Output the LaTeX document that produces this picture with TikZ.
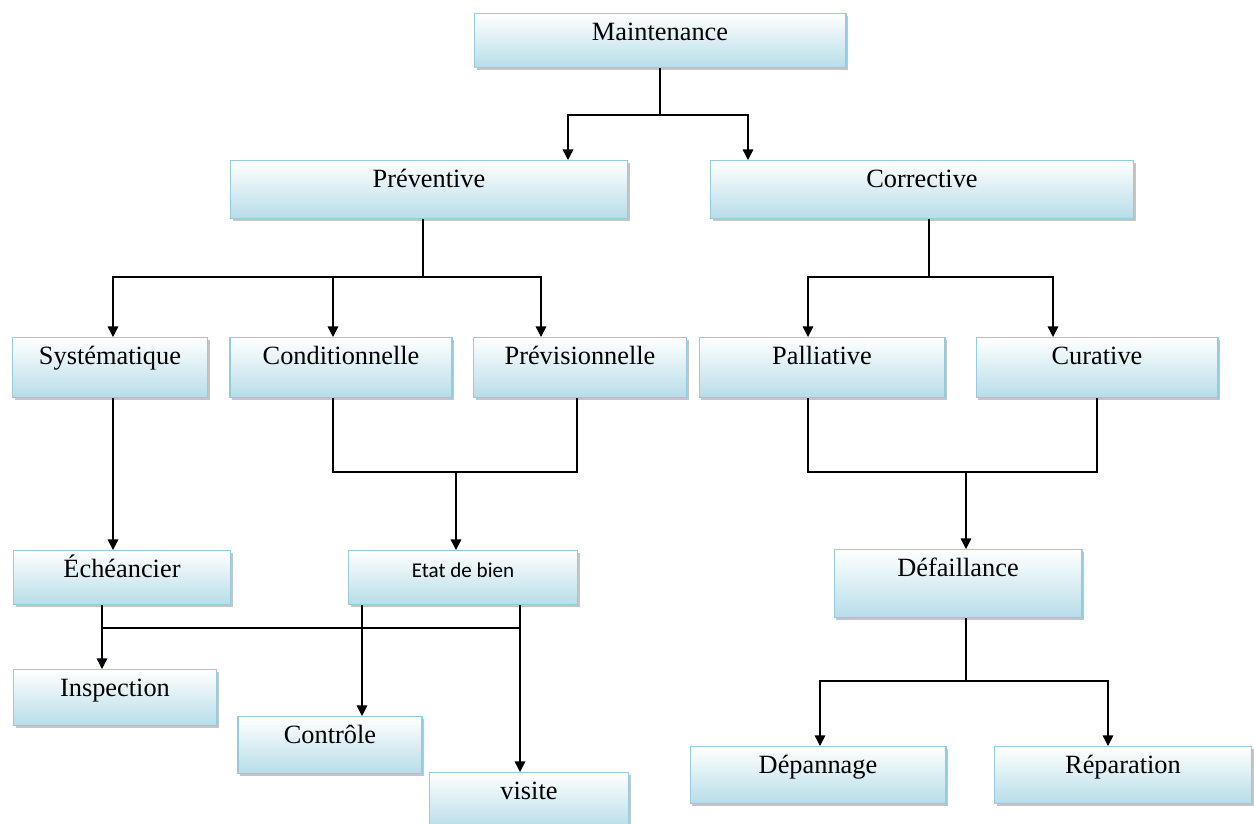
\documentclass[tikz,border=0pt]{standalone}
\usepackage{fontspec}
\setmainfont{Liberation Serif}
\newfontfamily\etatfont{Carlito}
\usetikzlibrary{arrows.meta}
\usetikzlibrary{shadows}
\definecolor{boxblue}{RGB}{183,221,232}
\definecolor{boxline}{RGB}{146,205,221}
\tikzset{
  box/.style={draw=boxline, line width=0.6pt, top color=white, bottom color=boxblue,
    drop shadow={shadow xshift=1.4pt, shadow yshift=-1.6pt, fill=black!45},
    anchor=north, inner xsep=0pt, inner ysep=0pt, text height=0.54cm,
    font=\fontsize{15}{18}\selectfont},
  link/.style={line width=0.8pt},
  arr/.style={link, -{Triangle[length=6pt,width=6pt]}}
}

\begin{document}
\begin{tikzpicture}[x=0.02cm, y=-0.02cm]
  \useasboundingbox (0,0) rectangle (1254,823);

  % boxes
  \node[box, minimum width=7.44cm, text depth=0.54cm] (maint) at (660,13) {Maintenance};
  \node[box, minimum width=7.96cm, text depth=0.62cm] (prev) at (429,160) {Préventive};
  \node[box, minimum width=8.48cm, text depth=0.62cm] (corr) at (922,160) {Corrective};
  \node[box, minimum width=3.90cm, text depth=0.66cm] (syst) at (110,337) {Systématique};
  \node[box, minimum width=4.44cm, text depth=0.66cm] (cond) at (341,337) {Conditionnelle};
  \node[box, minimum width=4.26cm, text depth=0.66cm] (previs) at (580,337) {Prévisionnelle};
  \node[box, minimum width=4.92cm, text depth=0.66cm] (pall) at (822,337) {Palliative};
  \node[box, minimum width=4.84cm, text depth=0.66cm] (cura) at (1097,337) {Curative};
  \node[box, minimum width=4.34cm, text depth=0.54cm] (echea) at (122,550) {Échéancier};
  \node[box, minimum width=4.58cm, text depth=0.54cm, font=\etatfont\fontsize{12}{14}\selectfont] (etat) at (463,550) {Etat de bien};
  \node[box, minimum width=4.96cm, text depth=0.82cm] (defa) at (958,549) {Défaillance};
  \node[box, minimum width=4.06cm, text depth=0.58cm] (insp) at (115,669) {Inspection};
  \node[box, minimum width=3.68cm, text depth=0.60cm] (contr) at (330,716) {Contrôle};
  \node[box, minimum width=3.98cm, text depth=0.58cm] (visite) at (529,772) {visite};
  \node[box, minimum width=5.12cm, text depth=0.60cm] (depan) at (818,746) {Dépannage};
  \node[box, minimum width=5.14cm, text depth=0.60cm] (repar) at (1123,746) {Réparation};

  % junctions
  \coordinate (jm) at (660,115);
  \coordinate (jp) at (423,277);
  \coordinate (jc) at (929,277);
  \coordinate (jcp) at (456,472);
  \coordinate (jpc) at (966,472);
  \coordinate (je) at (102,628);
  \coordinate (jd) at (966,681);

  % connectors
  \draw[link] (maint.south) -- (jm);
  \draw[arr] (jm) -| (prev.north -| 568,0);
  \draw[arr] (jm) -| (corr.north -| 748,0);

  \draw[link] (prev.south -| jp) -- (jp);
  \draw[arr] (jp) -| (syst.north -| 113,0);
  \draw[arr] (jp) -| (cond.north -| 333,0);
  \draw[arr] (jp) -| (previs.north -| 541,0);

  \draw[link] (corr.south -| jc) -- (jc);
  \draw[arr] (jc) -| (pall.north -| 808,0);
  \draw[arr] (jc) -| (cura.north -| 1053,0);

  \draw[arr] (syst.south -| 113,0) -- (echea.north -| 113,0);

  \draw[link] (cond.south -| 333,0) |- (jcp) -| (previs.south -| 577,0);
  \draw[arr] (jcp) -- (etat.north -| jcp);

  \draw[link] (pall.south -| 808,0) |- (jpc) -| (cura.south -| 1097,0);
  \draw[arr] (jpc) -- (defa.north -| jpc);

  \draw[arr] (echea.south -| je) -- (insp.north -| je);
  \draw[link] (je) -- (520,628);
  \draw[arr] (etat.south -| 362,0) -- (contr.north -| 362,0);
  \draw[arr] (etat.south -| 520,0) -- (visite.north -| 520,0);

  \draw[link] (defa.south -| jd) -- (jd);
  \draw[arr] (jd) -| (depan.north -| 820,0);
  \draw[arr] (jd) -| (repar.north -| 1108,0);
\end{tikzpicture}
\end{document}
